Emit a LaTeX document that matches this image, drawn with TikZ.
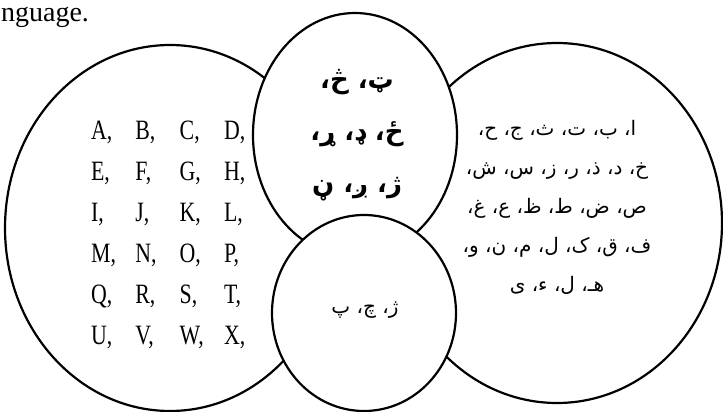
\documentclass[tikz,border=0pt]{standalone}
\usepackage{fontspec}
\setmainfont{Liberation Serif}
\newfontfamily\gridfont[FakeStretch=0.78]{Liberation Serif}
\newfontfamily\arabicfont[Script=Arabic]{DejaVu Sans}
\TeXXeTstate=1

\tikzset{every picture/.style={line width=2.2pt}}
\tikzset{
  setshape/.style={draw, fill=white},
  letter/.style={anchor=west, inner sep=0pt, font=\gridfont\fontsize{28}{28}\selectfont},
  script/.style={align=center, inner sep=0pt},
}

\begin{document}
\begin{tikzpicture}[x=1pt, y=-1pt]
    \useasboundingbox (0,0) rectangle (723,412);
    \node[anchor=base west, inner sep=0pt, font=\fontsize{28}{32}\selectfont] (caption) at (0,22) {nguage.};
    % the four sets, back to front
    \draw[setshape] (170,228) ellipse (165 and 183);
    \draw[setshape] (557,223) ellipse (165 and 180);
    \draw[setshape] (355,135) ellipse (102 and 122);
    \draw[setshape] (364,313) ellipse (92 and 98);
    % latin letters, four per row
    \foreach \l [count=\k from 0] in {A,...,X} {
        \pgfmathtruncatemacro{\col}{mod(\k,4)}
        \pgfmathtruncatemacro{\row}{\k/4}
        \node[letter] (lat-\l) at ({90+44.3*\col},{132+41*\row}) {\l,};
    }
    \node[script, font=\arabicfont\fontsize{20}{39}\selectfont] (arabic) at (557,207) {%
        \beginR ا، ب، ت، ث، ج، ح،\endR\\
        \beginR خ، د، ذ، ر، ز، س، ش،\endR\\
        \beginR ص، ض، ط، ظ، ع، غ،\endR\\
        \beginR ف، ق، ک، ل، م، ن، و،\endR\\
        \beginR هـ، ل، ء، ی\endR};
    \node[script, font=\arabicfont\bfseries\fontsize{26}{52}\selectfont] (pashto) at (357,135) {%
        \beginR ټ، څ،\endR\\
        \beginR ځ، ډ، ړ،\endR\\
        \beginR ژ، ږ، ڼ\endR};
    \node[script, font=\arabicfont\fontsize{20}{24}\selectfont] (shared) at (365,310) {\beginR ژ، چ، پ\endR};
\end{tikzpicture}
\end{document}
